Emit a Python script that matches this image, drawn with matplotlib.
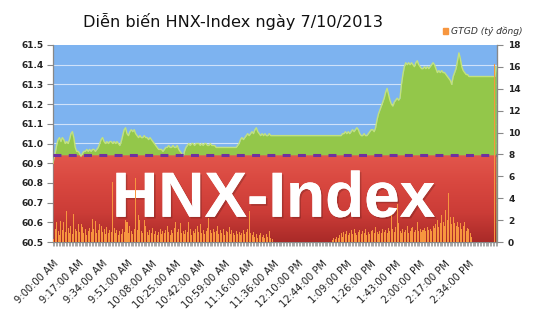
import numpy as np
import matplotlib
matplotlib.use("Agg")
import matplotlib.pyplot as plt
from matplotlib.colors import LinearSegmentedColormap
import matplotlib.patheffects as pe

# ---------------- data ----------------
tick_labels = ["9:00:00 AM", "9:17:00 AM", "9:34:00 AM", "9:51:00 AM", "10:08:00 AM",
               "10:25:00 AM", "10:42:00 AM", "10:59:00 AM", "11:16:00 AM", "11:36:00 AM",
               "12:10:00 PM", "12:44:00 PM", "1:09:00 PM", "1:26:00 PM", "1:43:00 PM",
               "2:00:00 PM", "2:17:00 PM", "2:34:00 PM"]
label_step = 17
ref_level = 60.94

index_values = [
    60.90, 60.95, 60.99, 61.02, 61.03, 61.01, 61.03, 61.02, 61.00, 61.01,
    61.00, 61.02, 61.05, 61.06, 61.03, 60.98, 60.96, 60.96, 60.95, 60.93,
    60.95, 60.96, 60.96, 60.97, 60.96, 60.97, 60.96, 60.97, 60.97, 60.96,
    60.97, 60.98, 61.00, 61.02, 61.03, 61.01, 61.00, 61.01, 61.00, 61.01,
    61.01, 61.00, 61.01, 61.00, 61.01, 61.00, 60.99, 61.01, 61.04, 61.07,
    61.08, 61.05, 61.04, 61.06, 61.07, 61.06, 61.07, 61.05, 61.04, 61.03,
    61.04, 61.03, 61.03, 61.04, 61.03, 61.03, 61.02, 61.03, 61.02, 61.01,
    61.00, 60.99, 60.98, 60.97, 60.97, 60.97, 60.96, 60.97, 60.98, 60.98,
    60.99, 60.98, 60.98, 60.99, 60.98, 60.98, 60.99, 60.97, 60.96, 60.95,
    60.93, 60.96, 60.98, 60.99, 61.00, 60.99, 61.00, 61.00, 60.99, 61.00,
    61.00, 61.00, 60.99, 61.00, 60.99, 61.00, 61.00, 60.99, 60.99, 61.00,
    60.99, 60.99, 60.99, 60.98, 60.98, 60.98, 60.98, 60.98, 60.98, 60.98,
    60.98, 60.98, 60.98, 60.98, 60.98, 60.98, 60.98, 60.98, 60.99, 61.00,
    61.02, 61.03, 61.02, 61.03, 61.04, 61.05, 61.04, 61.05, 61.06, 61.05,
    61.07, 61.08, 61.06, 61.05, 61.04, 61.05, 61.04, 61.05, 61.04, 61.04,
    61.05, 61.04, 61.04, 61.04, 61.04, 61.04, 61.04, 61.04, 61.04, 61.04,
    61.04, 61.04, 61.04, 61.04, 61.04, 61.04, 61.04, 61.04, 61.04, 61.04,
    61.04, 61.04, 61.04, 61.04, 61.04, 61.04, 61.04, 61.04, 61.04, 61.04,
    61.04, 61.04, 61.04, 61.04, 61.04, 61.04, 61.04, 61.04, 61.04, 61.04,
    61.04, 61.04, 61.04, 61.04, 61.04, 61.04, 61.04, 61.04, 61.04, 61.04,
    61.04, 61.05, 61.05, 61.06, 61.05, 61.06, 61.05, 61.06, 61.07, 61.06,
    61.07, 61.08, 61.07, 61.05, 61.04, 61.04, 61.05, 61.04, 61.04, 61.05,
    61.06, 61.07, 61.07, 61.06, 61.08, 61.12, 61.15, 61.17, 61.19, 61.21,
    61.23, 61.26, 61.28, 61.25, 61.22, 61.20, 61.19, 61.21, 61.22, 61.23,
    61.22, 61.23, 61.30, 61.35, 61.39, 61.41, 61.40, 61.41, 61.40, 61.41,
    61.40, 61.39, 61.41, 61.42, 61.40, 61.39, 61.38, 61.38, 61.39, 61.38,
    61.39, 61.38, 61.39, 61.40, 61.41, 61.40, 61.38, 61.36, 61.37, 61.36,
    61.37, 61.36, 61.36, 61.35, 61.34, 61.33, 61.32, 61.30, 61.34, 61.36,
    61.38, 61.42, 61.46, 61.43, 61.39, 61.37, 61.36, 61.35, 61.35, 61.34,
    61.34, 61.34, 61.34, 61.34, 61.34, 61.34, 61.34, 61.34, 61.34, 61.34,
    61.34, 61.34, 61.34, 61.34, 61.34, 61.34, 61.34, 61.34, 61.39,
]

volume_values = [
    0.3, 1.2, 1.85, 1.0, 0.6, 1.9, 1.1, 1.85, 0.9, 2.8,
    1.3, 0.8, 1.5, 0.7, 2.6, 1.2, 1.0, 1.6, 0.9, 1.6,
    1.4, 0.8, 1.2, 0.6, 1.0, 1.3, 0.9, 2.1, 1.2, 1.9,
    0.8, 1.1, 1.6, 1.5, 0.9, 1.2, 0.7, 1.4, 0.8, 1.1,
    0.9, 5.5, 1.3, 0.8, 1.1, 0.6, 1.0, 0.7, 1.2, 0.9,
    2.0, 1.85, 0.8, 1.5, 1.0, 0.7, 1.2, 5.85, 1.1, 2.5,
    2.0, 1.0, 0.8, 2.0, 1.5, 0.9, 0.6, 1.1, 0.8, 1.3,
    0.7, 1.0, 0.6, 0.9, 1.2, 0.7, 1.0, 0.8, 1.1, 1.5,
    0.9, 0.6, 1.1, 0.8, 1.3, 1.85, 0.9, 1.2, 1.7, 0.8,
    1.0, 0.7, 1.1, 0.9, 1.85, 1.2, 0.6, 1.0, 0.8, 1.2,
    1.5, 0.9, 1.6, 0.8, 1.1, 0.7, 1.0, 1.3, 2.2, 1.1,
    0.8, 1.2, 0.9, 1.0, 1.5, 0.7, 1.1, 0.8, 1.2, 0.6,
    1.0, 0.9, 1.4, 0.7, 1.1, 0.8, 0.6, 1.0, 0.7, 0.9,
    0.6, 0.8, 1.1, 0.7, 0.9, 1.2, 2.8, 0.8, 0.6, 0.9,
    0.5, 0.7, 0.4, 0.6, 0.8, 0.5, 0.6, 0.4, 0.7, 0.5,
    1.0, 0.4, 0.3, 0, 0, 0, 0, 0, 0, 0,
    0, 0, 0, 0, 0, 0, 0, 0, 0, 0,
    0, 0, 0, 0, 0, 0, 0, 0, 0, 0,
    0, 0, 0, 0, 0, 0, 0, 0, 0, 0,
    0, 0, 0, 0, 0.2, 0.4, 0.3, 0.5, 0.4, 0.6,
    0.8, 0.5, 0.9, 0.7, 1.0, 0.6, 0.8, 1.1, 0.7, 1.2,
    0.8, 0.6, 0.9, 1.1, 0.7, 1.0, 0.8, 1.2, 0.6, 0.9,
    0.7, 1.0, 1.1, 0.8, 1.4, 0.9, 0.7, 1.0, 0.8, 1.2,
    0.9, 1.1, 0.8, 1.3, 1.0, 2.5, 1.2, 0.9, 1.4, 3.5,
    1.7, 1.0, 0.8, 1.2, 0.9, 1.1, 1.5, 0.8, 1.0, 1.3,
    1.4, 0.9, 1.1, 1.8, 1.0, 1.2, 0.9, 1.1, 1.3, 1.0,
    1.4, 1.1, 1.2, 1.0, 1.5, 1.3, 1.6, 2.0, 1.4, 1.7,
    2.5, 1.8, 1.5, 2.9, 2.0, 4.45, 2.3, 1.6, 2.3, 1.7,
    1.5, 1.8, 1.4, 1.7, 1.2, 1.5, 1.8, 1.0, 1.3, 1.2,
    0.8, 0.5, 0, 0, 0, 0, 0, 0, 0, 0,
    0, 0, 0, 0, 0, 0, 0, 16.3, 0,
]

# ---------------- figure ----------------
idx = np.array(index_values)
vol = np.array(volume_values)
n = len(idx)
x = np.arange(n)

fig = plt.figure(figsize=(5.35, 3.35), dpi=100)
fig.patch.set_facecolor("white")
ax = fig.add_axes([53 / 535, 1 - 242 / 335, 444 / 535, 197 / 335])
ax.set_facecolor("#7db3f0")

ymin, ymax = 60.5, 61.5
ax.set_ylim(ymin, ymax)
ax.set_xlim(-0.5, n - 0.5)

for v in np.arange(60.6, 61.5, 0.1):
    ax.axhline(v, color="#cfe2fa", lw=0.8, zorder=1)

# green index area
ax.fill_between(x, ymin, idx, color="#93c74a", lw=0, zorder=2)
ax.plot(x, idx, color="#c3e27d", lw=1.0, zorder=3)

# red area with gradient
red_top = np.minimum(idx, ref_level)
poly = ax.fill_between(x, ymin, red_top, facecolor="none", edgecolor="none", zorder=4)
cmap = LinearSegmentedColormap.from_list("r", ["#a92a28", "#cb3c37", "#d8473f", "#e2564c"])
grad = np.linspace(0, 1, 256).reshape(-1, 1)
im = ax.imshow(grad, extent=[-0.5, n - 0.5, ymin, ref_level], origin="lower",
               aspect="auto", cmap=cmap, zorder=4)
im.set_clip_path(poly.get_paths()[0], transform=ax.transData)
ax.set_xlim(-0.5, n - 0.5)
ax.set_ylim(ymin, ymax)

ax.axhline(ref_level, color="#7030a0", lw=2.2, dashes=(2.6, 2.4), zorder=6)

ax.text(0.497, 0.128, "HNX-Index", transform=ax.transAxes, ha="center", va="baseline",
        fontsize=46, fontweight="bold", family="Liberation Sans", color="white", zorder=7,
        path_effects=[pe.withSimplePatchShadow(offset=(1.2, -1.2), shadow_rgbFace="black", alpha=0.18),
                      pe.Normal()])

# axes styling
ax.set_yticks(np.round(np.arange(60.5, 61.51, 0.1), 1))
ax.set_yticklabels([f"{v:.1f}" for v in np.arange(60.5, 61.51, 0.1)],
                   fontsize=6.5, fontweight="bold", color="#222222")
ax.tick_params(axis="y", length=4, color="#888888", width=0.8, pad=3)

major = np.arange(0, label_step * len(tick_labels), label_step)
ax.set_xticks(major)
ax.set_xticklabels(tick_labels, rotation=45, ha="right", rotation_mode="anchor",
                   fontsize=7.2, color="#222222")
ax.set_xticks(np.arange(n + 1) - 0.5, minor=True)
ax.tick_params(axis="x", which="major", length=0, pad=12)
ax.tick_params(axis="x", which="minor", length=3, color="#999999", width=0.6)
ax.spines["top"].set_visible(False)
for s in ["left", "bottom", "right"]:
    ax.spines[s].set_color("#888888")
    ax.spines[s].set_linewidth(0.9)

# secondary axis with volume bars
ax2 = ax.twinx()
ax2.bar(x, vol, width=0.7, color="#f7963f", lw=0, zorder=3)
ax2.set_ylim(0, 18)
ax2.set_yticks(np.arange(0, 19, 2))
ax2.set_yticklabels([str(v) for v in range(0, 19, 2)], fontsize=6.5, fontweight="bold",
                    color="#222222")
ax2.tick_params(axis="y", length=4, color="#888888", width=0.8, pad=4)
ax2.spines["top"].set_visible(False)
ax2.spines["right"].set_color("#888888")
ax2.spines["left"].set_visible(False)
ax2.spines["bottom"].set_visible(False)
ax2.set_xlim(-0.5, n - 0.5)

# title and legend
fig.text(233 / 535, 1 - 21 / 335, "Diễn biến HNX-Index ngày 7/10/2013", ha="center",
         va="center", fontsize=11.6, color="#111111")
fig.patches.append(plt.Rectangle((443 / 535, 1 - 33.5 / 335), 5 / 535, 5 / 335,
                                 transform=fig.transFigure, color="#f7963f"))
fig.text(451 / 535, 1 - 31 / 335, "GTGD (tỷ đồng)", ha="left", va="center",
         fontsize=6.6, style="italic", color="#333333")

fig.savefig("out.png", dpi=100)
